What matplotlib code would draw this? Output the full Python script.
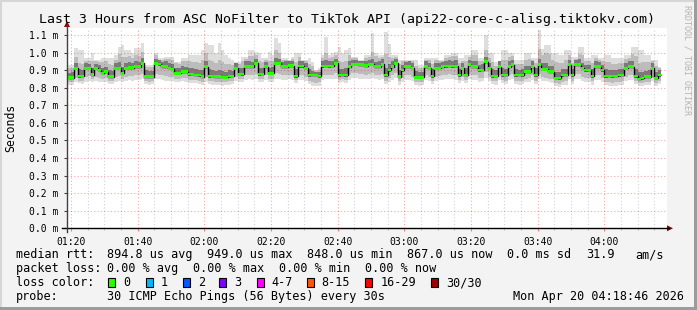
import numpy as np
import matplotlib
matplotlib.use('Agg')
import matplotlib.pyplot as plt
import matplotlib.dates as mdates
from matplotlib.lines import Line2D
from matplotlib.patches import Rectangle, Polygon
from datetime import datetime, timedelta

# ---------------- data (ms), one value per minute ----------------
view_start = datetime(2026, 4, 20, 1, 18, 46)
view_end = datetime(2026, 4, 20, 4, 18, 46)
data_start = datetime(2026, 4, 20, 1, 19, 0)

median = [
    0.857, 0.857, 0.910, 0.867, 0.867, 0.910, 0.910, 0.875, 0.910, 0.901,
    0.882, 0.891, 0.863, 0.863, 0.910, 0.910, 0.882, 0.910, 0.915, 0.915,
    0.920, 0.920, 0.939, 0.863, 0.863, 0.863, 0.939, 0.935, 0.920, 0.920,
    0.910, 0.905, 0.882, 0.882, 0.891, 0.891, 0.878, 0.878, 0.872, 0.872,
    0.863, 0.920, 0.867, 0.867, 0.863, 0.863, 0.859, 0.859, 0.867, 0.867,
    0.910, 0.878, 0.878, 0.920, 0.920, 0.920, 0.939, 0.878, 0.878, 0.920,
    0.882, 0.882, 0.939, 0.939, 0.920, 0.920, 0.926, 0.926, 0.867, 0.924,
    0.924, 0.910, 0.872, 0.872, 0.872, 0.867, 0.924, 0.924, 0.924, 0.924,
    0.939, 0.872, 0.872, 0.872, 0.920, 0.934, 0.934, 0.930, 0.930, 0.925,
    0.934, 0.934, 0.920, 0.920, 0.934, 0.872, 0.901, 0.920, 0.939, 0.863,
    0.901, 0.920, 0.920, 0.910, 0.859, 0.859, 0.859, 0.920, 0.910, 0.867,
    0.910, 0.910, 0.920, 0.924, 0.924, 0.924, 0.924, 0.872, 0.910, 0.872,
    0.930, 0.920, 0.920, 0.901, 0.901, 0.948, 0.910, 0.867, 0.867, 0.920,
    0.872, 0.872, 0.920, 0.930, 0.872, 0.872, 0.872, 0.891, 0.891, 0.920,
    0.872, 0.930, 0.905, 0.905, 0.891, 0.891, 0.855, 0.855, 0.872, 0.872,
    0.930, 0.872, 0.930, 0.930, 0.910, 0.901, 0.901, 0.867, 0.920, 0.920,
    0.901, 0.867, 0.867, 0.867, 0.867, 0.872, 0.872, 0.910, 0.920, 0.920,
    0.867, 0.850, 0.855, 0.863, 0.863, 0.910, 0.855, 0.872,
]

smoke_hi = [
    0.930, 0.930, 1.025, 1.015, 1.015, 0.967, 0.967, 0.996, 0.958, 0.958,
    0.967, 0.967, 0.967, 0.967, 0.986, 1.034, 1.044, 1.015, 1.015, 0.996,
    1.025, 1.025, 1.053, 0.930, 0.930, 0.930, 0.996, 0.967, 0.967, 0.977,
    0.977, 0.977, 0.948, 0.948, 0.967, 0.967, 0.986, 0.986, 0.986, 0.986,
    1.015, 1.053, 1.044, 1.044, 0.996, 1.053, 1.015, 0.986, 0.967, 0.958,
    0.948, 0.948, 0.977, 0.977, 1.015, 1.015, 1.005, 0.996, 0.967, 0.967,
    1.005, 0.986, 1.081, 1.053, 0.967, 0.967, 0.958, 0.977, 0.996, 0.996,
    0.958, 0.958, 0.967, 0.948, 0.901, 0.910, 0.986, 1.091, 0.986, 0.996,
    1.005, 1.034, 0.996, 1.015, 1.025, 0.977, 0.977, 0.958, 0.958, 0.986,
    0.986, 1.110, 1.000, 0.986, 0.986, 1.120, 1.050, 0.986, 0.986, 0.958,
    0.958, 0.958, 0.958, 0.958, 0.958, 0.930, 0.930, 0.967, 0.967, 0.967,
    0.967, 0.958, 0.958, 0.986, 0.986, 0.996, 0.996, 0.967, 0.967, 0.986,
    0.986, 1.015, 1.015, 0.967, 0.967, 1.100, 0.996, 0.996, 0.948, 0.948,
    1.015, 1.015, 0.996, 0.996, 0.958, 0.958, 0.958, 0.996, 0.996, 0.967,
    0.967, 1.130, 1.020, 1.044, 1.044, 0.996, 0.996, 0.986, 0.986, 1.015,
    1.015, 0.977, 0.977, 1.034, 1.034, 0.967, 0.967, 0.986, 0.986, 0.967,
    0.967, 0.986, 0.986, 0.967, 0.967, 0.967, 0.967, 0.986, 0.986, 1.034,
    1.034, 1.015, 1.015, 0.986, 0.986, 0.958, 0.958, 0.920,
]

smoke_p90 = [
    0.910, 0.912, 0.975, 0.940, 0.935, 0.955, 0.955, 0.950, 0.950, 0.948,
    0.945, 0.950, 0.935, 0.930, 0.960, 0.990, 0.975, 0.975, 0.980, 0.970,
    0.985, 0.980, 1.005, 0.920, 0.918, 0.920, 0.985, 0.960, 0.958, 0.965,
    0.962, 0.960, 0.938, 0.935, 0.950, 0.950, 0.950, 0.948, 0.945, 0.940,
    0.960, 0.995, 0.960, 0.955, 0.940, 0.960, 0.945, 0.935, 0.935, 0.930,
    0.940, 0.935, 0.955, 0.965, 0.980, 0.978, 0.985, 0.955, 0.945, 0.958,
    0.955, 0.950, 1.015, 0.995, 0.960, 0.960, 0.950, 0.965, 0.945, 0.975,
    0.952, 0.950, 0.935, 0.925, 0.898, 0.902, 0.970, 0.995, 0.970, 0.975,
    0.985, 0.950, 0.945, 0.955, 0.985, 0.968, 0.968, 0.952, 0.952, 0.970,
    0.975, 1.005, 0.980, 0.970, 0.975, 0.990, 0.975, 0.970, 0.975, 0.935,
    0.950, 0.955, 0.955, 0.952, 0.925, 0.915, 0.915, 0.960, 0.958, 0.935,
    0.958, 0.952, 0.955, 0.972, 0.975, 0.978, 0.980, 0.940, 0.955, 0.950,
    0.975, 0.985, 0.985, 0.955, 0.955, 1.015, 0.970, 0.945, 0.925, 0.940,
    0.960, 0.960, 0.975, 0.980, 0.935, 0.935, 0.935, 0.960, 0.962, 0.960,
    0.940, 1.020, 0.985, 0.995, 0.990, 0.960, 0.945, 0.940, 0.940, 0.960,
    0.985, 0.940, 0.965, 0.990, 0.985, 0.955, 0.955, 0.940, 0.970, 0.960,
    0.955, 0.945, 0.945, 0.935, 0.935, 0.940, 0.940, 0.965, 0.970, 0.990,
    0.980, 0.940, 0.945, 0.945, 0.945, 0.950, 0.925, 0.910,
]

smoke_p75 = [
    0.885, 0.888, 0.940, 0.905, 0.900, 0.938, 0.935, 0.915, 0.935, 0.930,
    0.915, 0.920, 0.900, 0.898, 0.938, 0.945, 0.920, 0.940, 0.945, 0.942,
    0.950, 0.948, 0.968, 0.900, 0.895, 0.898, 0.965, 0.960, 0.948, 0.950,
    0.940, 0.935, 0.915, 0.912, 0.922, 0.920, 0.910, 0.912, 0.905, 0.903,
    0.900, 0.950, 0.905, 0.902, 0.898, 0.900, 0.895, 0.892, 0.900, 0.898,
    0.938, 0.910, 0.912, 0.950, 0.952, 0.948, 0.965, 0.912, 0.910, 0.948,
    0.915, 0.918, 0.970, 0.965, 0.948, 0.950, 0.955, 0.952, 0.905, 0.952,
    0.950, 0.940, 0.905, 0.895, 0.890, 0.892, 0.952, 0.958, 0.950, 0.955,
    0.965, 0.908, 0.905, 0.910, 0.950, 0.960, 0.958, 0.955, 0.955, 0.952,
    0.960, 0.965, 0.948, 0.950, 0.962, 0.910, 0.935, 0.950, 0.965, 0.900,
    0.932, 0.948, 0.950, 0.940, 0.895, 0.890, 0.892, 0.950, 0.940, 0.905,
    0.940, 0.938, 0.948, 0.955, 0.958, 0.955, 0.958, 0.908, 0.940, 0.910,
    0.958, 0.952, 0.950, 0.932, 0.935, 0.975, 0.940, 0.905, 0.900, 0.950,
    0.910, 0.908, 0.950, 0.958, 0.905, 0.902, 0.905, 0.925, 0.922, 0.950,
    0.910, 0.962, 0.938, 0.940, 0.925, 0.922, 0.892, 0.890, 0.905, 0.908,
    0.960, 0.908, 0.958, 0.962, 0.940, 0.932, 0.930, 0.905, 0.950, 0.948,
    0.932, 0.905, 0.902, 0.900, 0.902, 0.908, 0.905, 0.940, 0.950, 0.952,
    0.905, 0.888, 0.890, 0.898, 0.900, 0.938, 0.890, 0.900,
]

smoke_p25 = [
    0.849, 0.850, 0.900, 0.858, 0.860, 0.901, 0.902, 0.866, 0.901, 0.893,
    0.873, 0.882, 0.855, 0.855, 0.901, 0.902, 0.873, 0.901, 0.906, 0.907,
    0.911, 0.912, 0.930, 0.855, 0.854, 0.855, 0.930, 0.926, 0.911, 0.912,
    0.901, 0.897, 0.873, 0.874, 0.882, 0.883, 0.869, 0.870, 0.864, 0.863,
    0.855, 0.911, 0.858, 0.859, 0.854, 0.855, 0.851, 0.850, 0.858, 0.859,
    0.901, 0.870, 0.869, 0.911, 0.912, 0.911, 0.930, 0.869, 0.870, 0.911,
    0.873, 0.874, 0.930, 0.931, 0.911, 0.912, 0.917, 0.918, 0.858, 0.915,
    0.915, 0.901, 0.863, 0.864, 0.864, 0.858, 0.915, 0.916, 0.915, 0.916,
    0.930, 0.863, 0.864, 0.863, 0.911, 0.925, 0.926, 0.921, 0.922, 0.916,
    0.925, 0.926, 0.911, 0.912, 0.925, 0.863, 0.892, 0.911, 0.930, 0.855,
    0.892, 0.911, 0.912, 0.901, 0.851, 0.850, 0.851, 0.911, 0.901, 0.858,
    0.901, 0.902, 0.911, 0.915, 0.916, 0.915, 0.916, 0.863, 0.901, 0.864,
    0.921, 0.911, 0.912, 0.892, 0.893, 0.939, 0.901, 0.858, 0.859, 0.911,
    0.863, 0.864, 0.911, 0.921, 0.863, 0.864, 0.863, 0.882, 0.883, 0.911,
    0.863, 0.921, 0.896, 0.897, 0.882, 0.883, 0.847, 0.846, 0.863, 0.864,
    0.921, 0.863, 0.921, 0.922, 0.901, 0.892, 0.893, 0.858, 0.911, 0.912,
    0.892, 0.858, 0.859, 0.858, 0.859, 0.863, 0.864, 0.901, 0.911, 0.912,
    0.858, 0.842, 0.846, 0.855, 0.854, 0.901, 0.847, 0.863,
]

smoke_p10 = [
    0.830, 0.832, 0.858, 0.840, 0.838, 0.860, 0.865, 0.848, 0.862, 0.858,
    0.850, 0.855, 0.836, 0.838, 0.860, 0.865, 0.848, 0.862, 0.868, 0.866,
    0.870, 0.870, 0.880, 0.838, 0.834, 0.836, 0.880, 0.875, 0.870, 0.866,
    0.862, 0.860, 0.848, 0.850, 0.855, 0.855, 0.846, 0.845, 0.842, 0.840,
    0.835, 0.862, 0.838, 0.836, 0.832, 0.832, 0.830, 0.832, 0.836, 0.838,
    0.862, 0.848, 0.850, 0.870, 0.872, 0.870, 0.880, 0.848, 0.850, 0.870,
    0.852, 0.850, 0.882, 0.880, 0.870, 0.870, 0.875, 0.872, 0.842, 0.872,
    0.870, 0.862, 0.838, 0.832, 0.828, 0.830, 0.872, 0.874, 0.875, 0.872,
    0.882, 0.845, 0.848, 0.845, 0.870, 0.882, 0.882, 0.878, 0.876, 0.872,
    0.880, 0.882, 0.872, 0.870, 0.880, 0.840, 0.858, 0.870, 0.885, 0.836,
    0.856, 0.870, 0.870, 0.862, 0.832, 0.830, 0.832, 0.870, 0.862, 0.838,
    0.862, 0.864, 0.870, 0.874, 0.876, 0.874, 0.872, 0.842, 0.860, 0.842,
    0.878, 0.870, 0.870, 0.856, 0.858, 0.888, 0.862, 0.838, 0.836, 0.870,
    0.842, 0.840, 0.870, 0.876, 0.840, 0.836, 0.838, 0.852, 0.854, 0.870,
    0.840, 0.876, 0.860, 0.858, 0.850, 0.848, 0.826, 0.824, 0.834, 0.836,
    0.876, 0.840, 0.876, 0.878, 0.862, 0.856, 0.855, 0.836, 0.870, 0.872,
    0.856, 0.834, 0.830, 0.828, 0.830, 0.834, 0.836, 0.860, 0.870, 0.870,
    0.838, 0.825, 0.828, 0.832, 0.834, 0.860, 0.828, 0.840,
]

smoke_lo = [
    0.815, 0.815, 0.830, 0.825, 0.822, 0.835, 0.840, 0.830, 0.838, 0.835,
    0.832, 0.835, 0.820, 0.822, 0.835, 0.840, 0.830, 0.838, 0.842, 0.840,
    0.845, 0.845, 0.850, 0.822, 0.818, 0.820, 0.850, 0.848, 0.845, 0.840,
    0.838, 0.836, 0.830, 0.832, 0.836, 0.835, 0.828, 0.826, 0.825, 0.822,
    0.818, 0.835, 0.820, 0.818, 0.815, 0.814, 0.812, 0.815, 0.818, 0.820,
    0.838, 0.830, 0.832, 0.845, 0.848, 0.846, 0.850, 0.830, 0.832, 0.845,
    0.834, 0.832, 0.852, 0.850, 0.845, 0.846, 0.848, 0.845, 0.825, 0.846,
    0.845, 0.840, 0.820, 0.812, 0.808, 0.810, 0.845, 0.848, 0.850, 0.848,
    0.852, 0.828, 0.830, 0.828, 0.845, 0.855, 0.856, 0.852, 0.850, 0.848,
    0.852, 0.855, 0.848, 0.845, 0.852, 0.822, 0.835, 0.845, 0.855, 0.818,
    0.835, 0.845, 0.846, 0.840, 0.815, 0.812, 0.814, 0.845, 0.840, 0.820,
    0.840, 0.842, 0.846, 0.848, 0.850, 0.848, 0.846, 0.826, 0.838, 0.825,
    0.850, 0.846, 0.845, 0.835, 0.836, 0.856, 0.840, 0.820, 0.818, 0.845,
    0.825, 0.822, 0.845, 0.850, 0.822, 0.818, 0.820, 0.832, 0.834, 0.845,
    0.822, 0.850, 0.838, 0.836, 0.830, 0.828, 0.808, 0.806, 0.815, 0.818,
    0.850, 0.822, 0.850, 0.852, 0.840, 0.835, 0.834, 0.818, 0.845, 0.846,
    0.835, 0.815, 0.812, 0.810, 0.812, 0.815, 0.818, 0.838, 0.845, 0.845,
    0.820, 0.808, 0.810, 0.815, 0.816, 0.838, 0.812, 0.822,
]

y_ticks = [0.0, 0.1, 0.2, 0.3, 0.4, 0.5, 0.6, 0.7, 0.8, 0.9, 1.0, 1.1]

title = "Last 3 Hours from ASC NoFilter to TikTok API (api22-core-c-alisg.tiktokv.com)"
legend_rows = [
    ("median rtt:", ["894.8 us avg", "949.0 us max", "848.0 us min", "867.0 us now", "0.0 ms sd", "31.9", "am/s"]),
    ("packet loss:", ["0.00 % avg", "0.00 % max", "0.00 % min", "0.00 % now"]),
]
loss_labels = ["0", "1", "2", "3", "4-7", "8-15", "16-29", "30/30"]
loss_colors = ["#26ff00", "#00b8ff", "#0059ff", "#7e00ff", "#ff00ff", "#ff5500", "#ff0000", "#a10000"]
probe_text = "30 ICMP Echo Pings (56 Bytes) every 30s"
stamp_text = "Mon Apr 20 04:18:46 2026"

# ---------------- figure ----------------
W, H = 697, 310
MONO = "DejaVu Sans Mono"
fig = plt.figure(figsize=(W / 100, H / 100), dpi=100)
fig.patch.set_facecolor("#f3f3f3")


def fx(px):
    return px / W


def fy(py):
    return 1 - py / H


# bevelled frame
fig.add_artist(Rectangle((0, fy(2)), 1, fy(0) - fy(2), transform=fig.transFigure, color="#d6d6d6", lw=0))
fig.add_artist(Rectangle((0, 0), fx(2), 1, transform=fig.transFigure, color="#d6d6d6", lw=0))
fig.add_artist(Rectangle((0, 0), 1, fy(307), transform=fig.transFigure, color="#9c9c9c", lw=0))
fig.add_artist(Rectangle((fx(694), 0), fx(3), 1, transform=fig.transFigure, color="#9c9c9c", lw=0))

L, R, T, B = 67, 667, 28, 228.3
ax = fig.add_axes([fx(L), fy(B), fx(R - L), fy(T) - fy(B)])
ax.set_facecolor("white")
for s in ax.spines.values():
    s.set_visible(False)

med = np.array(median)
edges = mdates.date2num([data_start + timedelta(minutes=i) for i in range(len(median) + 1)])

ax.stairs(smoke_hi, edges, baseline=smoke_lo, fill=True, color="#dedede", lw=0, zorder=1)
ax.stairs(smoke_p90, edges, baseline=smoke_p10, fill=True, color="#bcbcbc", lw=0, zorder=1.1)
ax.stairs(smoke_p75, edges, baseline=smoke_p25, fill=True, color="#7a7a7a", lw=0, zorder=1.2)

ax.set_axisbelow(False)
ax.stairs(med, edges, baseline=None, color="#000000", lw=1.0, zorder=3)
gw = 0.008
ax.stairs(med + gw, edges, baseline=med - gw, fill=True, color=loss_colors[0], lw=0, zorder=3.1)

ax.set_xlim(mdates.date2num(view_start), mdates.date2num(view_end))
ax.set_ylim(0, 1.14)

ax.xaxis.set_major_locator(mdates.MinuteLocator(byminute=[0, 20, 40]))
ax.xaxis.set_minor_locator(mdates.MinuteLocator(byminute=list(range(0, 60, 5))))
ax.xaxis.set_major_formatter(mdates.DateFormatter("%H:%M"))
ax.set_yticks(y_ticks)
ax.set_yticklabels([f"{v:.1f} m" for v in y_ticks])

ax.grid(which="major", axis="both", color="#ff0000", alpha=0.35, linestyle=(0, (1, 2)), lw=0.8, zorder=2.5)
ax.grid(which="minor", axis="x", color="#000000", alpha=0.18, linestyle=(0, (1, 2)), lw=0.8, zorder=2.4)

ax.tick_params(axis="x", which="major", length=2.5, width=0.8, color="#ff8080", direction="out", pad=3.5)
ax.tick_params(axis="x", which="minor", length=1.5, width=0.8, color="#c0c0c0", direction="out")
ax.tick_params(axis="y", which="major", length=2.5, width=0.8, color="#404040", direction="out", pad=4)
for lab in ax.get_xticklabels() + ax.get_yticklabels():
    lab.set_fontfamily(MONO)
    lab.set_fontsize(7.05)
    lab.set_color("#000000")

# y axis title
fig.text(fx(10.5), fy(128), "Seconds", fontfamily=MONO, fontsize=8.3, rotation=90,
         ha="center", va="center", color="#000000")

# axis lines with arrows
fig.add_artist(Line2D([fx(62), fx(669)], [fy(B), fy(B)], transform=fig.transFigure, color="#000000", lw=1))
fig.add_artist(Line2D([fx(L), fx(L)], [fy(232), fy(25)], transform=fig.transFigure, color="#404040", lw=1))
fig.add_artist(Polygon([[fx(673), fy(B)], [fx(667), fy(B - 3)], [fx(667), fy(B + 3)]],
                       closed=True, transform=fig.transFigure, color="#8b0000", lw=0))
fig.add_artist(Polygon([[fx(L), fy(21)], [fx(L - 3), fy(27)], [fx(L + 3), fy(27)]],
                       closed=True, transform=fig.transFigure, color="#8b0000", lw=0))

# title
fig.text(fx(347), fy(23), title, fontfamily=MONO, fontsize=9.5, ha="center", va="baseline", color="#000000")

# right side credit
fig.text(fx(687.5), fy(5), "RRDTOOL / TOBI OETIKER", fontfamily=MONO, fontsize=6.0, rotation=270,
         ha="center", va="top", color="#b4b4b4")

# legend
LEG = 8.5
row_base = [258.3, 272.0, 286.5, 300.3]
row1_x = [107.3, 207.3, 306.7, 407.3, 507.3, 586.0, 635.0]
row2_x = [107.3, 193.3, 279.3, 365.0]
for (label, items), xs, yb in zip(legend_rows, [row1_x, row2_x], row_base[:2]):
    fig.text(fx(16), fy(yb), label, fontfamily=MONO, fontsize=LEG, va="baseline")
    for t, x in zip(items, xs):
        fig.text(fx(x), fy(yb), t, fontfamily=MONO, fontsize=LEG, va="baseline")

fig.text(fx(16), fy(row_base[2]), "loss color:", fontfamily=MONO, fontsize=LEG, va="baseline")
box_x = [108.3, 145.7, 182.7, 219.3, 256.7, 306.7, 365.3, 430.7]
for lab, col, bx in zip(loss_labels, loss_colors, box_x):
    fig.add_artist(Rectangle((fx(bx), fy(286.5)), fx(7), fy(278) - fy(286.5), transform=fig.transFigure,
                             facecolor=col, edgecolor="#000000", lw=0.8))
    fig.text(fx(bx + 15), fy(row_base[2]), lab, fontfamily=MONO, fontsize=LEG, va="baseline")

fig.text(fx(16), fy(row_base[3]), "probe:", fontfamily=MONO, fontsize=LEG, va="baseline")
fig.text(fx(107.3), fy(row_base[3]), probe_text, fontfamily=MONO, fontsize=LEG, va="baseline")
fig.text(fx(513.3), fy(row_base[3]), stamp_text, fontfamily=MONO, fontsize=LEG, va="baseline")

fig.savefig("out.png", dpi=100, facecolor=fig.get_facecolor())
